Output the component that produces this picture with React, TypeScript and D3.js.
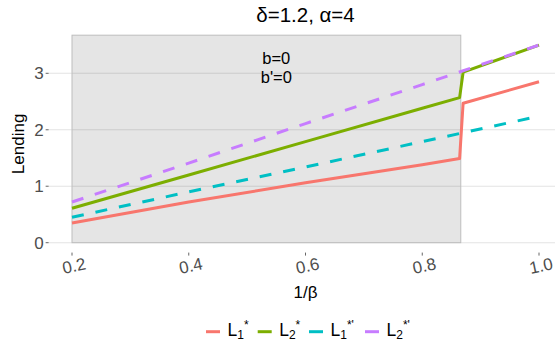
import React, { useEffect, useRef } from 'react';
import * as d3 from 'd3';

// x values (1/beta) for each segment
const xBefore = [0.2, 0.4, 0.6, 0.8, 0.864];
const xAfter = [0.87, 1.0];
const xFull = [0.2, 0.4, 0.6, 0.8, 1.0];

// L1* (solid) and L2* (solid) jump at the shaded boundary
const l1Before = [0.35, 0.72, 1.06, 1.38, 1.49];
const l1After = [2.47, 2.85];
const l2Before = [0.61, 1.2, 1.79, 2.38, 2.57];
const l2After = [3.02, 3.5];
// L1*' and L2*' (dashed)
const l1p = [0.45, 0.9, 1.34, 1.79, 2.24];
const l2p = [0.72, 1.41, 2.11, 2.8, 3.5];

const shadeFrom = 0.2;
const shadeTo = 0.866;

const yTicks = [0, 1, 2, 3];
const xTicks = [0.2, 0.4, 0.6, 0.8, 1.0];

const seriesNames = ['L1*', 'L2*', "L1*'", "L2*'"];
const seriesColors = ['#F8766D', '#7CAE00', '#00BFC4', '#C77CFF'];
const legendSub = ['1', '2', '1', '2'];
const legendSup = ['*', '*', "*'", "*'"];

const W = 555;
const H = 346;
const FONT = '"Liberation Sans", Arial, sans-serif';

const App = () => {
    const svgRef = useRef<SVGSVGElement>(null);

    useEffect(() => {
        const svg = d3.select(svgRef.current);
        svg.selectAll('*').remove();

        const x = d3.scaleLinear().domain([0.2, 1.0]).range([72, 539]);
        const y = d3.scaleLinear().domain([0, 3]).range([242.7, 73.3]);

        const left = x(0.16);
        const right = x(1.04);
        const top = y(3.675);
        const bottom = y(-0.175);

        // gridlines
        svg.append('g')
            .selectAll('line')
            .data(yTicks)
            .enter()
            .append('line')
            .attr('x1', left)
            .attr('x2', right)
            .attr('y1', d => y(d))
            .attr('y2', d => y(d))
            .attr('stroke', '#e3e3e3')
            .attr('stroke-width', 1.1);

        // shaded region
        svg.append('rect')
            .attr('x', x(shadeFrom))
            .attr('y', top)
            .attr('width', x(shadeTo) - x(shadeFrom))
            .attr('height', y(0) - top)
            .attr('fill', '#000')
            .attr('fill-opacity', 0.1)
            .attr('stroke', '#bdbdbd')
            .attr('stroke-width', 1);

        // y axis
        const ya = svg.append('g');
        ya.selectAll('line')
            .data(yTicks)
            .enter()
            .append('line')
            .attr('x1', left - 3)
            .attr('x2', left)
            .attr('y1', d => y(d))
            .attr('y2', d => y(d))
            .attr('stroke', '#666');
        ya.selectAll('text')
            .data(yTicks)
            .enter()
            .append('text')
            .attr('x', left - 5)
            .attr('y', d => y(d))
            .attr('dy', '0.36em')
            .attr('text-anchor', 'end')
            .attr('font-size', 17)
            .attr('fill', '#4d4d4d')
            .attr('font-family', FONT)
            .text(d => d);

        // x axis
        const xa = svg.append('g');
        xa.selectAll('line')
            .data(xTicks)
            .enter()
            .append('line')
            .attr('x1', d => x(d))
            .attr('x2', d => x(d))
            .attr('y1', bottom)
            .attr('y2', bottom + 3)
            .attr('stroke', '#666');
        xa.selectAll('text')
            .data(xTicks)
            .enter()
            .append('text')
            .attr('transform', d => `translate(${x(d) + 2},${bottom + 13}) rotate(-12)`)
            .attr('dy', '0.36em')
            .attr('text-anchor', 'middle')
            .attr('font-size', 17)
            .attr('fill', '#4d4d4d')
            .attr('font-family', FONT)
            .text(d => d3.format('.1f')(d));

        // lines
        const line = d3.line<[number, number]>()
            .x(d => x(d[0]))
            .y(d => y(d[1]));

        const zip = (xs: number[], ys: number[]) => xs.map((v, i) => [v, ys[i]] as [number, number]);

        const paths = [
            { pts: zip(xBefore, l1Before).concat(zip(xAfter, l1After)), color: seriesColors[0], dash: null },
            { pts: zip(xBefore, l2Before).concat(zip(xAfter, l2After)), color: seriesColors[1], dash: null },
            { pts: zip(xFull, l1p), color: seriesColors[2], dash: '12,12' },
            { pts: zip(xFull, l2p), color: seriesColors[3], dash: '12,12' },
        ];

        svg.append('g')
            .selectAll('path')
            .data(paths)
            .enter()
            .append('path')
            .attr('d', d => line(d.pts))
            .attr('fill', 'none')
            .attr('stroke', d => d.color)
            .attr('stroke-width', 3)
            .attr('stroke-dasharray', d => d.dash)
            .attr('stroke-linejoin', 'round');

        // annotation, two lines
        const annX = x(0.55);
        svg.append('text')
            .attr('x', annX)
            .attr('y', 64)
            .attr('text-anchor', 'middle')
            .attr('font-size', 16.5)
            .attr('font-family', FONT)
            .text('b=0');
        svg.append('text')
            .attr('x', annX)
            .attr('y', 82.5)
            .attr('text-anchor', 'middle')
            .attr('font-size', 16.5)
            .attr('font-family', FONT)
            .text("b'=0");

        // titles
        svg.append('text')
            .attr('x', (left + right) / 2)
            .attr('y', 22)
            .attr('text-anchor', 'middle')
            .attr('font-size', 20.5)
            .attr('font-family', FONT)
            .text('δ=1.2, α=4');

        svg.append('text')
            .attr('x', (left + right) / 2)
            .attr('y', 298)
            .attr('text-anchor', 'middle')
            .attr('font-size', 17)
            .attr('font-family', FONT)
            .text('1/β');

        svg.append('text')
            .attr('transform', `translate(24,${(top + bottom) / 2}) rotate(-90)`)
            .attr('text-anchor', 'middle')
            .attr('font-size', 17)
            .attr('font-family', FONT)
            .text('Lending');

        // legend
        const legendX = [206, 257.7, 309, 365];
        const lg = svg.append('g');
        seriesNames.forEach((name, i) => {
            const g = lg.append('g').attr('transform', `translate(${legendX[i]},331.7)`);
            g.append('line')
                .attr('x1', 0)
                .attr('x2', 14)
                .attr('stroke', seriesColors[i])
                .attr('stroke-width', 3);
            const t = g.append('text')
                .attr('x', 21.5)
                .attr('y', 4.5)
                .attr('font-size', 17.5)
                .attr('font-family', FONT)
                .attr('fill', '#000');
            t.append('tspan').text('L');
            t.append('tspan').attr('font-size', 12).attr('dy', 3).text(legendSub[i]);
            t.append('tspan').attr('font-size', 12).attr('dy', -10).text(legendSup[i]);
            t.append('title').text(name);
        });
    }, []);

    return (
        <svg
            ref={svgRef}
            width={W}
            height={H}
            style={{ position: 'absolute', left: 0, top: 0, background: '#fff' }}
        />
    );
};

export default App;
